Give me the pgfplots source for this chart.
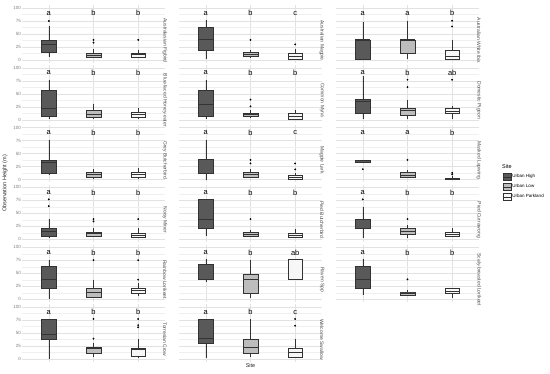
\documentclass[border=0pt]{standalone}
\usepackage{pgfplots}
\pgfplotsset{compat=1.18}
\usepgfplotslibrary{statistics}
\usepackage{fontspec}
\setmainfont{Liberation Sans}
\setsansfont{Liberation Sans}
\definecolor{uh}{HTML}{595959}
\definecolor{ul}{HTML}{BDBDBD}
\definecolor{up}{HTML}{F7F7F7}
\definecolor{bline}{HTML}{333333}
\definecolor{gridc}{HTML}{E2E2E2}
\definecolor{gridm}{HTML}{F0F0F0}
\definecolor{tickc}{HTML}{7F7F7F}
\definecolor{stripc}{HTML}{4D4D4D}
\pgfplotsset{
  uhs/.style={draw=bline, fill=uh},
  uls/.style={draw=bline, fill=ul},
  ups/.style={draw=bline, fill=up},
  panel/.style={
    scale only axis, width=143pt, height=57.2pt, anchor=south west,
    xmin=0.4, xmax=3.6, ymin=-5, ymax=105,
    xtick={1,2,3}, xticklabels={},
    ytick={0,25,50,75,100}, minor ytick={12.5,37.5,62.5,87.5},
    xmajorgrids, ymajorgrids, yminorgrids,
    major grid style={draw=gridc, line width=0.45pt},
    minor grid style={draw=gridm, line width=0.3pt},
    axis line style={draw=none}, major tick length=0pt, minor tick length=0pt,
    tick style={draw=none},
    yticklabels={},
    /pgf/number format/assume math mode=true,
    yticklabel style={font=\fontsize{4.5}{5}\selectfont, text=tickc, inner sep=1pt},
    boxplot/every median/.style={line width=0.9pt},
    clip=false,
  },
  firstcol/.style={yticklabels={0,25,50,75,100}},
}
\newcommand{\bx}[8]{\addplot[#1, line width=0.4pt, mark=*, mark size=0.7pt,
  mark options={fill=black, draw=black},
  boxplot prepared={draw direction=y, draw position=#2, box extend=0.33, whisker extend=0,
  lower whisker=#3, lower quartile=#4, median=#5, upper quartile=#6, upper whisker=#7}]
  coordinates {#8};}
\newcommand{\letters}[3]{%
  \node[font=\fontsize{7.5}{8}\selectfont] at (axis cs:1,90) {#1};
  \node[font=\fontsize{7.5}{8}\selectfont] at (axis cs:2,90) {#2};
  \node[font=\fontsize{7.5}{8}\selectfont] at (axis cs:3,90) {#3};}
\newcommand{\strip}[1]{\node[rotate=-90, font=\fontsize{5}{6}\selectfont, text=stripc, xshift=6.5pt] at (rel axis cs:1,0.5) {#1};}
\begin{document}
\begin{tikzpicture}
\useasboundingbox (0,0) rectangle (550pt,373pt);
% Row 1
\begin{axis}[panel, firstcol, at={(22pt,310.4pt)}]
\bx{uhs}{1}{6.5}{14.8}{29}{38.7}{64.5}{(0,75)}
\bx{uls}{2}{3}{5}{9.7}{14}{20.6}{(0,33.5) (0,38.7)}
\bx{ups}{3}{3}{5}{10}{14}{20}{(0,38.7)}
\letters{a}{b}{b}
\strip{Australasian Figbird}
\end{axis}
\begin{axis}[panel, at={(179pt,310.4pt)}]
\bx{uhs}{1}{1}{18}{38.7}{63}{77.4}{}
\bx{uls}{2}{5}{6.5}{11}{15}{19}{(0,38.7)}
\bx{ups}{3}{1}{1.3}{6.5}{13}{20.6}{(0,30)}
\letters{a}{b}{c}
\strip{Australian Magpie}
\end{axis}
\begin{axis}[panel, at={(336pt,310.4pt)}]
\bx{uhs}{1}{1}{1}{38.7}{38.7}{74}{}
\bx{uls}{2}{1}{13}{38.7}{38.7}{75.5}{}
\bx{ups}{3}{1}{1.3}{7.7}{18}{38.7}{(0,64.5) (0,75.5)}
\letters{a}{a}{b}
\strip{Australian White Ibis}
\end{axis}
% Row 2
\begin{axis}[panel, firstcol, at={(22pt,250.6pt)}]
\bx{uhs}{1}{2}{7}{21.5}{57.5}{77}{}
\bx{uls}{2}{2}{5}{10.5}{18}{30}{}
\bx{ups}{3}{2}{5}{10.5}{15}{23.5}{}
\letters{a}{b}{b}
\strip{Blue-faced Honey-eater}
\end{axis}
\begin{axis}[panel, at={(179pt,250.6pt)}]
\bx{uhs}{1}{2}{6.5}{30}{57.5}{77}{}
\bx{uls}{2}{4}{6.5}{10}{13}{19.6}{(0,26) (0,39)}
\bx{ups}{3}{2}{2}{6.5}{11.8}{19.6}{}
\letters{a}{b}{b}
\strip{Common Myna}
\end{axis}
\begin{axis}[panel, at={(336pt,250.6pt)}]
\bx{uhs}{1}{2}{11.8}{36}{39}{84}{}
\bx{uls}{2}{2}{8.5}{18}{21.5}{39}{(0,63) (0,77)}
\bx{ups}{3}{2}{11.8}{17}{21.5}{26}{(0,77)}
\letters{a}{b}{ab}
\strip{Domestic Pigeon}
\end{axis}
% Row 3
\begin{axis}[panel, firstcol, at={(22pt,190.8pt)}]
\bx{uhs}{1}{8.5}{13}{32.7}{38}{76}{}
\bx{uls}{2}{2}{5}{10.5}{15}{19.6}{}
\bx{ups}{3}{2}{5}{10.5}{15}{21.6}{}
\letters{a}{b}{b}
\strip{Grey Butcherbird}
\end{axis}
\begin{axis}[panel, at={(179pt,190.8pt)}]
\bx{uhs}{1}{0}{12}{39}{39}{76}{}
\bx{uls}{2}{4}{5}{10}{13.7}{19.6}{(0,31) (0,38)}
\bx{ups}{3}{1}{1}{5}{8.5}{13}{(0,19.6) (0,31)}
\letters{a}{b}{c}
\strip{Magpie Lark}
\end{axis}
\begin{axis}[panel, at={(336pt,190.8pt)},
  legend style={at={(1.14,0.34)}, anchor=north west, draw=none, fill=none,
    font=\fontsize{4.5}{5}\selectfont, row sep=3pt, nodes={inner sep=0.8pt},
    cells={anchor=west}}]
\addlegendimage{legend image code/.code={\node[anchor=west, inner sep=0pt, font=\fontsize{5.5}{6}\selectfont] at (-1pt,0pt) {Site};}}
\addlegendentry{}
\addlegendimage{legend image code/.code={\draw[draw=bline, fill=uh, line width=0.4pt] (0pt,-3.3pt) rectangle (8pt,3.3pt); \draw[bline, line width=0.8pt] (0pt,0pt) -- (8pt,0pt);}}
\addlegendentry{Urban High}
\addlegendimage{legend image code/.code={\draw[draw=bline, fill=ul, line width=0.4pt] (0pt,-3.3pt) rectangle (8pt,3.3pt); \draw[bline, line width=0.8pt] (0pt,0pt) -- (8pt,0pt);}}
\addlegendentry{Urban Low}
\addlegendimage{legend image code/.code={\draw[draw=bline, fill=up, line width=0.4pt] (0pt,-3.3pt) rectangle (8pt,3.3pt); \draw[bline, line width=0.8pt] (0pt,0pt) -- (8pt,0pt);}}
\addlegendentry{Urban Parkland}
\bx{uhs}{1}{33.5}{33.5}{36}{38}{38}{(0,20)}
\bx{uls}{2}{4}{5}{8.5}{14.6}{18}{(0,38)}
\bx{ups}{3}{0}{1}{2}{2.5}{6}{(0,10) (0,13)}
\letters{a}{a}{b}
\strip{Masked Lapwing}
\end{axis}
% Row 4
\begin{axis}[panel, firstcol, at={(22pt,131pt)}]
\bx{uhs}{1}{2}{6.5}{15}{21.5}{39}{(0,64) (0,77)}
\bx{uls}{2}{4}{6.5}{10.5}{13}{21.5}{(0,34.6) (0,39)}
\bx{ups}{3}{2}{4}{8.5}{11.8}{21.5}{(0,39)}
\letters{a}{b}{b}
\strip{Noisy Miner}
\end{axis}
\begin{axis}[panel, at={(179pt,131pt)}]
\bx{uhs}{1}{6.5}{21.5}{39}{77}{77}{}
\bx{uls}{2}{4}{6.5}{10}{13}{18}{(0,39)}
\bx{ups}{3}{2}{5}{8.5}{11.8}{19.6}{}
\letters{a}{b}{b}
\strip{Pied Butcherbird}
\end{axis}
\begin{axis}[panel, at={(336pt,131pt)}]
\bx{uhs}{1}{2}{21.5}{39}{39}{63}{(0,77)}
\bx{uls}{2}{2}{10.5}{16}{21.5}{28}{(0,39)}
\bx{ups}{3}{4}{6.5}{10}{13.7}{21.5}{}
\letters{a}{b}{b}
\strip{Pied Currawong}
\end{axis}
% Row 5
\begin{axis}[panel, firstcol, at={(22pt,71.2pt)}]
\bx{uhs}{1}{1}{21}{38.8}{63.8}{75.6}{}
\bx{uls}{2}{3}{4.6}{12.5}{21}{36}{(0,75)}
\bx{ups}{3}{6}{11}{16.4}{21}{31}{(0,37.5) (0,75)}
\letters{a}{b}{b}
\strip{Rainbow Lorikeet}
\end{axis}
\begin{axis}[panel, at={(179pt,71.2pt)}]
\bx{uhs}{1}{34}{37.5}{37.5}{67}{77}{}
\bx{uls}{2}{3}{11}{38.8}{49}{75.6}{}
\bx{ups}{3}{37.5}{37.5}{77}{77}{77}{}
\letters{a}{b}{ab}
\strip{Raven Spp}
\end{axis}
\begin{axis}[panel, at={(336pt,71.2pt)}]
\bx{uhs}{1}{8}{21}{38.8}{63.8}{77}{}
\bx{uls}{2}{7.7}{7.7}{12}{14}{18.6}{(0,38)}
\bx{ups}{3}{3}{12}{14.5}{20.6}{20.6}{}
\letters{a}{b}{b}
\strip{Scaly-breasted Lorikeet}
\end{axis}
% Row 6
\begin{axis}[panel, firstcol, at={(22pt,11.4pt)}]
\bx{uhs}{1}{0}{39}{47}{77}{77}{}
\bx{uls}{2}{3}{11}{21}{23}{31}{(0,39) (0,77)}
\bx{ups}{3}{1.3}{6}{17.8}{21}{39}{(0,61) (0,65) (0,77)}
\letters{a}{b}{b}
\strip{Torresian Crow}
\end{axis}
\begin{axis}[panel, at={(179pt,11.4pt)}]
\bx{uhs}{1}{1.3}{29.6}{39}{77}{77}{}
\bx{uls}{2}{3}{11}{23}{39}{77}{}
\bx{ups}{3}{3}{3}{12.5}{21}{39}{(0,64) (0,77)}
\letters{a}{b}{c}
\strip{Welcome Swallow}
\end{axis}
\node[rotate=90, font=\fontsize{5.5}{6}\selectfont, text=black!85] at (5pt,189.5pt) {Observation Height (m)};
\node[font=\fontsize{5.5}{6}\selectfont, text=black!85] at (250.5pt,7pt) {Site};
\end{tikzpicture}
\end{document}
